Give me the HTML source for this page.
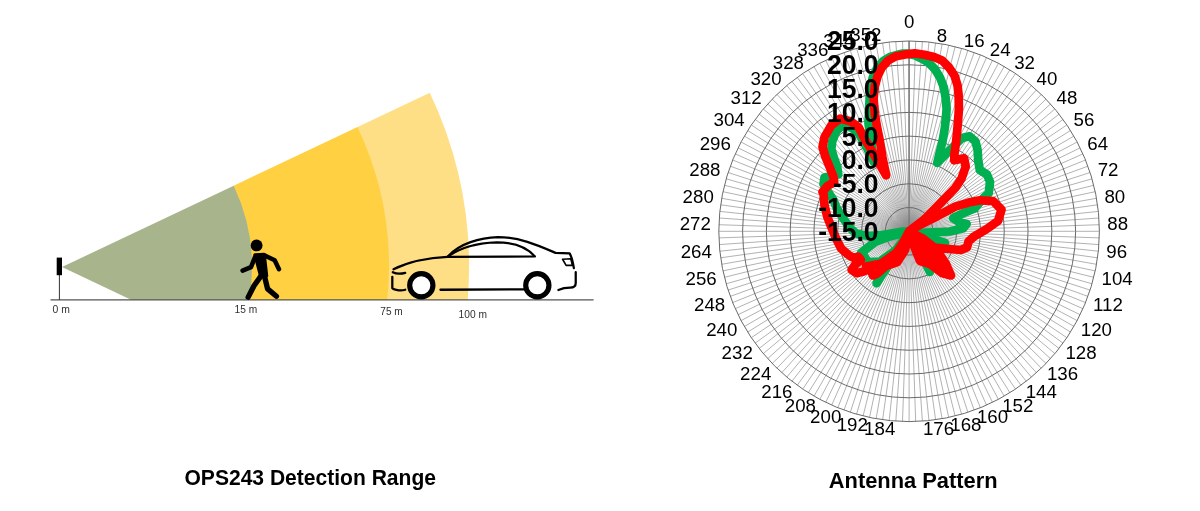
<!DOCTYPE html>
<html><head><meta charset="utf-8"><title>OPS243</title>
<style>html,body{margin:0;padding:0;background:#fff}svg{display:block}</style>
</head><body>
<svg width="1200" height="511" viewBox="0 0 1200 511">
<rect width="1200" height="511" fill="#fff"/>

<path d="M357.0 127.3L429.8 92.7A407 407 0 0 1 467.7 300.0L386.7 300.0A326.4 326.4 0 0 0 357.0 127.3Z" fill="#ffdf86"/>
<path d="M233.2 185.9L357.5 127.0A327 327 0 0 1 387.3 300.0L248.5 300.0A189.4 189.4 0 0 0 233.2 185.9Z" fill="#ffd041"/>
<path d="M62.0 267.0L233.7 185.7A190 190 0 0 1 249.1 300.0L131.5 300.0Z" fill="#a8b58c"/>
<path d="M50.5 299.9H593.6" stroke="#555" stroke-width="1.3" fill="none"/>
<path d="M59.4 275V300" stroke="#333" stroke-width="1" fill="none"/>
<rect x="56.7" y="257.6" width="5.3" height="17.6" fill="#000"/>

<g transform="translate(220 225) scale(0.21529)" fill="none" stroke="#000" stroke-linecap="round" stroke-linejoin="round">
<circle cx="170" cy="95" r="27.5" fill="#000" stroke="none"/>
<path d="M163 139L205 137L216 236L189 236Z" fill="#000" stroke-width="16"/>
<path d="M163 148L144 196L105 212" stroke-width="21"/>
<path d="M208 142L254 164L274 205" stroke-width="21"/>
<path d="M194 232L158 282L131 335" stroke-width="25"/>
<path d="M206 235L221 297L262 331" stroke-width="25"/>
</g>

<g transform="translate(370 220) scale(0.23485)" fill="none" stroke="#000" stroke-width="9.6" stroke-linecap="round" stroke-linejoin="round">
<path d="M100 210C160 180 250 160 330 157"/>
<path d="M330 157C380 100 470 75 545 73C640 73 720 110 790 140L850 142C860 160 865 185 868 205"/>
<path d="M330 157C390 112 470 97 540 95C620 95 670 118 702 155L330 157"/>
<path d="M97 222C112 230 132 230 150 225"/>
<path d="M95 242V290C100 298 130 302 150 297"/>
<path d="M300 297L655 295"/>
<path d="M876 222V268C876 284 868 288 852 288L826 290L802 298"/>
<path d="M820 167L855 165L862 193L835 193Z" stroke-width="7"/>
<circle cx="218.5" cy="278" r="49.5" fill="#fff" stroke-width="22"/>
<circle cx="712.5" cy="278" r="49.5" fill="#fff" stroke-width="22"/>
</g>

<g font-family="'Liberation Sans', Arial, sans-serif" font-size="10" fill="#303030">
<text x="52.5" y="312.9" textLength="17.3" lengthAdjust="spacingAndGlyphs">0 m</text>
<text x="234.5" y="312.9" textLength="22.6" lengthAdjust="spacingAndGlyphs">15 m</text>
<text x="380.3" y="315" textLength="22.4" lengthAdjust="spacingAndGlyphs">75 m</text>
<text x="458.6" y="317.5" textLength="28.4" lengthAdjust="spacingAndGlyphs">100 m</text>
</g>
<g font-family="'Liberation Sans', Arial, sans-serif" font-weight="bold" fill="#000" font-size="21.5">
<text x="184.5" y="485" textLength="251.5" lengthAdjust="spacingAndGlyphs">OPS243 Detection Range</text>
<text x="828.8" y="488.4" textLength="168.8" lengthAdjust="spacingAndGlyphs">Antenna Pattern</text>
</g>

<path d="M909.1 231.3L909.1 41.0M909.1 231.3L915.7 41.1M909.1 231.3L922.4 41.5M909.1 231.3L929.0 42.0M909.1 231.3L935.6 42.9M909.1 231.3L942.1 43.9M909.1 231.3L948.7 45.2M909.1 231.3L955.1 46.7M909.1 231.3L961.6 48.4M909.1 231.3L967.9 50.3M909.1 231.3L974.2 52.5M909.1 231.3L980.4 54.9M909.1 231.3L986.5 57.5M909.1 231.3L992.5 60.3M909.1 231.3L998.4 63.3M909.1 231.3L1004.2 66.5M909.1 231.3L1009.9 69.9M909.1 231.3L1015.5 73.5M909.1 231.3L1021.0 77.3M909.1 231.3L1026.3 81.3M909.1 231.3L1031.4 85.5M909.1 231.3L1036.4 89.9M909.1 231.3L1041.3 94.4M909.1 231.3L1046.0 99.1M909.1 231.3L1050.5 104.0M909.1 231.3L1054.9 109.0M909.1 231.3L1059.1 114.1M909.1 231.3L1063.1 119.4M909.1 231.3L1066.9 124.9M909.1 231.3L1070.5 130.5M909.1 231.3L1073.9 136.1M909.1 231.3L1077.1 142.0M909.1 231.3L1080.1 147.9M909.1 231.3L1082.9 153.9M909.1 231.3L1085.5 160.0M909.1 231.3L1087.9 166.2M909.1 231.3L1090.1 172.5M909.1 231.3L1092.0 178.8M909.1 231.3L1093.7 185.3M909.1 231.3L1095.2 191.7M909.1 231.3L1096.5 198.3M909.1 231.3L1097.5 204.8M909.1 231.3L1098.4 211.4M909.1 231.3L1098.9 218.0M909.1 231.3L1099.3 224.7M909.1 231.3L1099.4 231.3M909.1 231.3L1099.3 237.9M909.1 231.3L1098.9 244.6M909.1 231.3L1098.4 251.2M909.1 231.3L1097.5 257.8M909.1 231.3L1096.5 264.3M909.1 231.3L1095.2 270.9M909.1 231.3L1093.7 277.3M909.1 231.3L1092.0 283.8M909.1 231.3L1090.1 290.1M909.1 231.3L1087.9 296.4M909.1 231.3L1085.5 302.6M909.1 231.3L1082.9 308.7M909.1 231.3L1080.1 314.7M909.1 231.3L1077.1 320.6M909.1 231.3L1073.9 326.4M909.1 231.3L1070.5 332.1M909.1 231.3L1066.9 337.7M909.1 231.3L1063.1 343.2M909.1 231.3L1059.1 348.5M909.1 231.3L1054.9 353.6M909.1 231.3L1050.5 358.6M909.1 231.3L1046.0 363.5M909.1 231.3L1041.3 368.2M909.1 231.3L1036.4 372.7M909.1 231.3L1031.4 377.1M909.1 231.3L1026.3 381.3M909.1 231.3L1021.0 385.3M909.1 231.3L1015.5 389.1M909.1 231.3L1009.9 392.7M909.1 231.3L1004.2 396.1M909.1 231.3L998.4 399.3M909.1 231.3L992.5 402.3M909.1 231.3L986.5 405.1M909.1 231.3L980.4 407.7M909.1 231.3L974.2 410.1M909.1 231.3L967.9 412.3M909.1 231.3L961.6 414.2M909.1 231.3L955.1 415.9M909.1 231.3L948.7 417.4M909.1 231.3L942.1 418.7M909.1 231.3L935.6 419.7M909.1 231.3L929.0 420.6M909.1 231.3L922.4 421.1M909.1 231.3L915.7 421.5M909.1 231.3L909.1 421.6M909.1 231.3L902.5 421.5M909.1 231.3L895.8 421.1M909.1 231.3L889.2 420.6M909.1 231.3L882.6 419.7M909.1 231.3L876.1 418.7M909.1 231.3L869.5 417.4M909.1 231.3L863.1 415.9M909.1 231.3L856.6 414.2M909.1 231.3L850.3 412.3M909.1 231.3L844.0 410.1M909.1 231.3L837.8 407.7M909.1 231.3L831.7 405.1M909.1 231.3L825.7 402.3M909.1 231.3L819.8 399.3M909.1 231.3L814.0 396.1M909.1 231.3L808.3 392.7M909.1 231.3L802.7 389.1M909.1 231.3L797.2 385.3M909.1 231.3L791.9 381.3M909.1 231.3L786.8 377.1M909.1 231.3L781.8 372.7M909.1 231.3L776.9 368.2M909.1 231.3L772.2 363.5M909.1 231.3L767.7 358.6M909.1 231.3L763.3 353.6M909.1 231.3L759.1 348.5M909.1 231.3L755.1 343.2M909.1 231.3L751.3 337.7M909.1 231.3L747.7 332.1M909.1 231.3L744.3 326.5M909.1 231.3L741.1 320.6M909.1 231.3L738.1 314.7M909.1 231.3L735.3 308.7M909.1 231.3L732.7 302.6M909.1 231.3L730.3 296.4M909.1 231.3L728.1 290.1M909.1 231.3L726.2 283.8M909.1 231.3L724.5 277.3M909.1 231.3L723.0 270.9M909.1 231.3L721.7 264.3M909.1 231.3L720.7 257.8M909.1 231.3L719.8 251.2M909.1 231.3L719.3 244.6M909.1 231.3L718.9 237.9M909.1 231.3L718.8 231.3M909.1 231.3L718.9 224.7M909.1 231.3L719.3 218.0M909.1 231.3L719.8 211.4M909.1 231.3L720.7 204.8M909.1 231.3L721.7 198.3M909.1 231.3L723.0 191.7M909.1 231.3L724.5 185.3M909.1 231.3L726.2 178.8M909.1 231.3L728.1 172.5M909.1 231.3L730.3 166.2M909.1 231.3L732.7 160.0M909.1 231.3L735.3 153.9M909.1 231.3L738.1 147.9M909.1 231.3L741.1 142.0M909.1 231.3L744.3 136.1M909.1 231.3L747.7 130.5M909.1 231.3L751.3 124.9M909.1 231.3L755.1 119.4M909.1 231.3L759.1 114.1M909.1 231.3L763.3 109.0M909.1 231.3L767.7 104.0M909.1 231.3L772.2 99.1M909.1 231.3L776.9 94.4M909.1 231.3L781.8 89.9M909.1 231.3L786.8 85.5M909.1 231.3L791.9 81.3M909.1 231.3L797.2 77.3M909.1 231.3L802.7 73.5M909.1 231.3L808.3 69.9M909.1 231.3L813.9 66.5M909.1 231.3L819.8 63.3M909.1 231.3L825.7 60.3M909.1 231.3L831.7 57.5M909.1 231.3L837.8 54.9M909.1 231.3L844.0 52.5M909.1 231.3L850.3 50.3M909.1 231.3L856.6 48.4M909.1 231.3L863.1 46.7M909.1 231.3L869.5 45.2M909.1 231.3L876.1 43.9M909.1 231.3L882.6 42.9M909.1 231.3L889.2 42.0M909.1 231.3L895.8 41.5M909.1 231.3L902.5 41.1" stroke="#9e9e9e" stroke-width="0.8" fill="none"/>
<path d="M909.1 231.3L909.1 41.0" stroke="#858585" stroke-width="1.7" fill="none"/>
<defs><radialGradient id="hub"><stop offset="0" stop-color="#666" stop-opacity="0.4"/><stop offset="1" stop-color="#666" stop-opacity="0"/></radialGradient></defs><circle cx="909.1" cy="231.3" r="24" fill="url(#hub)"/>
<circle cx="909.1" cy="231.3" r="23.79" stroke="#6a6a6a" stroke-width="1" fill="none"/>
<circle cx="909.1" cy="231.3" r="47.58" stroke="#6a6a6a" stroke-width="1" fill="none"/>
<circle cx="909.1" cy="231.3" r="71.36" stroke="#6a6a6a" stroke-width="1" fill="none"/>
<circle cx="909.1" cy="231.3" r="95.15" stroke="#6a6a6a" stroke-width="1" fill="none"/>
<circle cx="909.1" cy="231.3" r="118.94" stroke="#6a6a6a" stroke-width="1" fill="none"/>
<circle cx="909.1" cy="231.3" r="142.73" stroke="#6a6a6a" stroke-width="1" fill="none"/>
<circle cx="909.1" cy="231.3" r="166.51" stroke="#6a6a6a" stroke-width="1" fill="none"/>
<circle cx="909.1" cy="231.3" r="190.30" stroke="#6a6a6a" stroke-width="1" fill="none"/>
<path d="M909.1 231.3L890.0 236.5L875.0 242.0L861.0 253.0L868.0 262.0L880.0 261.5L896.0 250.0L906.0 237.0L909.1 231.3L890.0 262.0L876.6 283.2L895.0 255.0L909.1 231.3L930.0 272.0L909.1 231.3L945.0 243.0L909.1 231.3L916.6 233.2L949.9 231.5L963.2 228.2L966.6 224.0L959.9 222.4L953.2 218.2L963.2 213.2L974.9 208.2L983.2 198.3L988.7 193.3L990.0 182.0L987.0 174.5L979.8 170.0L978.2 160.0L977.6 150.0L975.5 141.5L969.5 136.3L962.0 138.0L937.3 162.8L939.5 153.4L942.6 141.1L944.9 127.4L946.3 113.7L946.6 108.5L945.6 97.5L943.8 87.3L940.1 77.7L934.7 68.8L928.5 62.6L921.6 58.5L914.8 55.3L907.9 53.7L903.0 53.5L899.7 54.3L890.8 56.6L883.3 61.0L877.1 68.0L872.6 78.0L870.3 90.0L869.3 104.4L868.5 123.5L871.4 143.1L874.4 162.6L866.5 147.0L858.7 133.3L850.9 127.4L842.1 125.4L836.2 131.3L832.3 141.1L831.3 148.9L834.2 158.7L837.2 166.5L838.2 174.4L824.5 177.5L823.5 184.1L829.4 193.9L833.3 199.6L837.2 209.4L844.0 219.5L850.0 228.0L856.0 233.5L868.0 236.0L882.0 235.0L903.2 231.5L909.1 231.3" stroke="#00b050" stroke-width="8.7" fill="none" stroke-linejoin="round" stroke-linecap="butt"/>
<path d="M909.1 231.3L920.0 224.8L937.6 216.0L955.2 206.6L968.5 202.6L980.0 200.3L993.0 201.0L1001.5 209.6L998.0 221.0L986.0 229.5L974.0 236.5L968.5 241.5L967.0 247.5L960.7 250.0L948.9 249.0L939.1 248.0L929.4 247.0L915.0 237.0L909.1 231.3L922.0 238.0L936.0 249.0L946.0 264.0L951.0 275.5L942.0 273.0L930.0 264.0L920.0 261.0L914.0 246.0L909.1 231.3L930.0 255.0L944.0 270.0L927.0 256.0L909.1 231.3L903.0 243.0L896.3 252.9L880.6 263.9L866.0 266.5L880.6 263.9L896.3 252.9L903.0 243.0L909.1 231.3L905.0 250.0L897.2 262.2L885.6 266.2L878.0 273.0L873.0 275.5L869.9 268.5L863.3 271.6L856.6 273.2L851.6 269.9L855.0 264.9L860.8 259.9L858.3 256.6L854.8 258.3L848.9 255.3L841.1 248.5L836.2 238.7L831.3 227.0L827.4 217.2L824.5 205.4L823.5 193.7L822.5 192.0L827.4 186.1L834.2 182.2L833.3 176.3L829.4 166.5L825.4 156.8L822.5 147.0L824.5 137.2L831.3 125.4L840.1 118.6L850.9 121.5L858.7 127.4L864.6 139.1L868.5 145.0L876.3 158.7L886.1 175.3L882.4 157.0L879.9 141.1L877.1 127.4L874.8 113.7L873.7 100.0L873.7 97.5L874.8 86.6L877.5 76.3L881.9 67.4L888.1 60.5L895.9 56.2L905.2 54.4L914.8 53.4L924.4 54.8L934.0 57.1L942.2 60.5L949.0 67.4L954.5 75.6L957.5 85.2L958.6 94.8L958.9 108.5L958.6 113.7L957.5 127.4L956.2 141.1L954.5 153.4L954.2 160.3L964.1 158.3L965.7 166.6L961.6 178.3L955.2 188.0L942.0 201.6L932.2 211.6L924.0 219.8L909.1 231.3" stroke="#ff0000" stroke-width="8.7" fill="none" stroke-linejoin="round" stroke-linecap="butt"/>
<g font-family="'Liberation Sans', Arial, sans-serif" font-size="18.7" fill="#000"><text x="909.1" y="27.7" text-anchor="middle">0</text><text x="936.7" y="41.6" text-anchor="start">8</text><text x="963.8" y="46.5" text-anchor="start">16</text><text x="989.8" y="55.9" text-anchor="start">24</text><text x="1014.2" y="68.9" text-anchor="start">32</text><text x="1036.6" y="85.2" text-anchor="start">40</text><text x="1056.5" y="104.4" text-anchor="start">48</text><text x="1073.5" y="126.2" text-anchor="start">56</text><text x="1087.3" y="150.2" text-anchor="start">64</text><text x="1097.7" y="175.8" text-anchor="start">72</text><text x="1104.4" y="202.7" text-anchor="start">80</text><text x="1107.3" y="230.2" text-anchor="start">88</text><text x="1106.3" y="257.8" text-anchor="start">96</text><text x="1101.5" y="285.1" text-anchor="start">104</text><text x="1093.0" y="311.4" text-anchor="start">112</text><text x="1080.8" y="336.2" text-anchor="start">120</text><text x="1065.4" y="359.2" text-anchor="start">128</text><text x="1046.9" y="379.7" text-anchor="start">136</text><text x="1025.7" y="397.5" text-anchor="start">144</text><text x="1002.2" y="412.2" text-anchor="start">152</text><text x="976.9" y="423.4" text-anchor="start">160</text><text x="950.3" y="431.1" text-anchor="start">168</text><text x="922.9" y="434.9" text-anchor="start">176</text><text x="895.3" y="434.9" text-anchor="end">184</text><text x="867.9" y="431.1" text-anchor="end">192</text><text x="841.3" y="423.4" text-anchor="end">200</text><text x="816.0" y="412.2" text-anchor="end">208</text><text x="792.5" y="397.5" text-anchor="end">216</text><text x="771.3" y="379.7" text-anchor="end">224</text><text x="752.8" y="359.2" text-anchor="end">232</text><text x="737.4" y="336.2" text-anchor="end">240</text><text x="725.2" y="311.4" text-anchor="end">248</text><text x="716.7" y="285.1" text-anchor="end">256</text><text x="711.9" y="257.8" text-anchor="end">264</text><text x="710.9" y="230.2" text-anchor="end">272</text><text x="713.8" y="202.7" text-anchor="end">280</text><text x="720.5" y="175.8" text-anchor="end">288</text><text x="730.9" y="150.2" text-anchor="end">296</text><text x="744.7" y="126.2" text-anchor="end">304</text><text x="761.7" y="104.4" text-anchor="end">312</text><text x="781.6" y="85.2" text-anchor="end">320</text><text x="804.0" y="68.9" text-anchor="end">328</text><text x="828.4" y="55.9" text-anchor="end">336</text><text x="854.4" y="46.5" text-anchor="end">344</text><text x="881.5" y="40.7" text-anchor="end">352</text></g>
<g font-family="'Liberation Sans', Arial, sans-serif" font-size="28.0" font-weight="bold" fill="#000"><text transform="translate(878.6 240.7) scale(0.946 1)" text-anchor="end">-15.0</text><text transform="translate(878.6 216.9) scale(0.946 1)" text-anchor="end">-10.0</text><text transform="translate(878.6 193.1) scale(0.946 1)" text-anchor="end">-5.0</text><text transform="translate(878.6 169.4) scale(0.946 1)" text-anchor="end">0.0</text><text transform="translate(878.6 145.6) scale(0.946 1)" text-anchor="end">5.0</text><text transform="translate(878.6 121.8) scale(0.946 1)" text-anchor="end">10.0</text><text transform="translate(878.6 98.0) scale(0.946 1)" text-anchor="end">15.0</text><text transform="translate(878.6 74.2) scale(0.946 1)" text-anchor="end">20.0</text><text transform="translate(878.6 50.4) scale(0.946 1)" text-anchor="end">25.0</text></g>
</svg>
</body></html>
